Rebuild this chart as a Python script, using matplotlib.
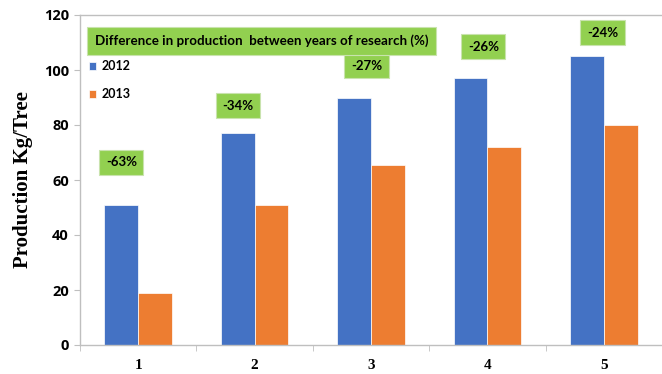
import numpy as np
import matplotlib
matplotlib.use('Agg')
import matplotlib.pyplot as plt

categories = ['1', '2', '3', '4', '5']
prod_2012 = [51, 77, 90, 97, 105]
prod_2013 = [19, 51, 65.5, 72, 80]
diff_labels = ['-63%', '-34%', '-27%', '-26%', '-24%']
diff_label_y = [66.5, 87, 101.5, 108.5, 113.5]
diff_label_dx = [-0.145, -0.145, -0.04, -0.035, -0.01]

blue = '#4472C4'
orange = '#ED7D31'
green = '#92D050'
grey = '#BFBFBF'

fig = plt.figure(figsize=(6.62, 3.74), dpi=100)
ax = fig.add_axes([80/662, 1-345/374, 1-80/662, 330/374])

x = np.arange(1, len(categories)+1)
w = 0.29
ax.bar(x - w/2, prod_2012, w, color=blue, edgecolor='white', linewidth=0.5, label='2012')
ax.bar(x + w/2, prod_2013, w, color=orange, edgecolor='white', linewidth=0.5, label='2013')

ax.set_xlim(0.5, 5.43)
ax.set_ylim(0, 120)
ax.set_yticks(range(0, 121, 20))
ax.set_xticks(x)
ax.set_xticklabels(categories, fontfamily='Liberation Serif', fontweight='bold', fontsize=11)
ax.set_xticks(np.arange(0.5, 5.6, 1), minor=True)
ax.tick_params(axis='x', which='major', length=0, pad=10)
ax.tick_params(axis='x', which='minor', length=4, color=grey)
ax.tick_params(axis='y', length=4, color=grey, pad=4)
for lab in ax.get_yticklabels():
    lab.set_fontfamily('Open Sans')
    lab.set_fontweight('bold')
    lab.set_fontsize(10.5)

for s in ['left', 'bottom', 'top']:
    ax.spines[s].set_color(grey)
    ax.spines[s].set_linewidth(1)
ax.spines['right'].set_visible(False)

ax.set_ylabel('Production Kg/Tree', fontfamily='Liberation Serif', fontweight='bold', fontsize=15, labelpad=8)

box = dict(boxstyle='square,pad=0.5', facecolor=green, edgecolor='#C9E3AE', linewidth=0.8)
for xi, lab, ly, dx in zip(x, diff_labels, diff_label_y, diff_label_dx):
    ax.text(xi + dx, ly, lab, ha='center', va='center', fontsize=9.5,
            fontfamily='Lato', fontweight='bold', bbox=box)

ax.text(2.06, 110.5, 'Difference in production  between years of research (%)', ha='center', va='center',
        fontsize=9.6, fontfamily='Lato', fontweight='bold',
        bbox=dict(boxstyle='square,pad=0.6', facecolor=green, edgecolor='#C9E3AE', linewidth=0.8))

leg = ax.legend(loc='upper left', bbox_to_anchor=(0.0, 0.89), frameon=False, handlelength=0.6,
                handleheight=0.6, labelspacing=1.3, handletextpad=0.4, borderaxespad=0.3,
                prop={'family': 'Lato', 'weight': 'bold', 'size': 9})

fig.savefig('out.png', dpi=100)
